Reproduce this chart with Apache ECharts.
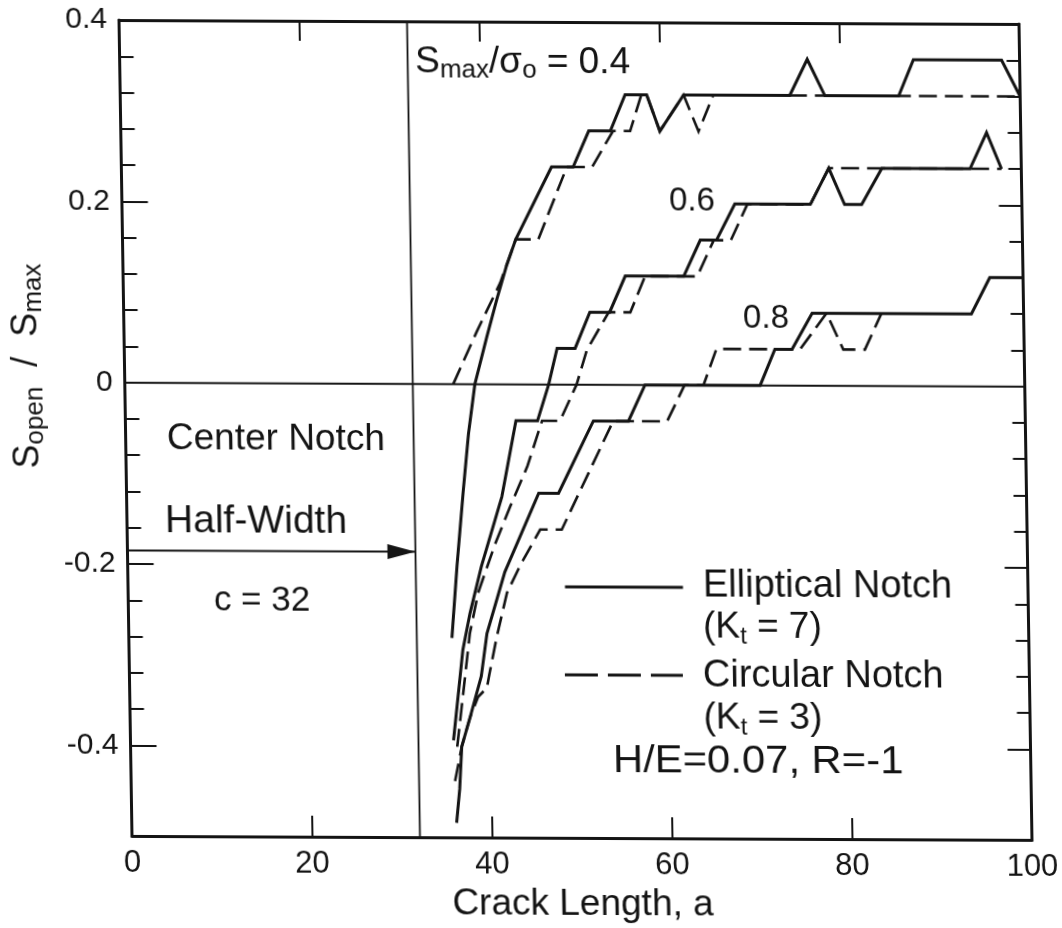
<!DOCTYPE html>
<html>
<head>
<meta charset="utf-8">
<title>Crack opening stress vs crack length</title>
<script src="https://cdn.jsdelivr.net/npm/echarts@6/dist/echarts.min.js"></script>
<style>
  html, body { margin: 0; padding: 0; background: #ffffff; }
  /* the plotted sheet is slightly sheared */
  #chart {
    width: 1062px; height: 928px;
    transform-origin: 575.5px 430px;
    transform: matrix(1, 0.0044, 0.0159, 1, 0, 0);
  }
</style>
</head>
<body>
<div id="chart"></div>
<script>
// Crack-opening stress S_open/S_max versus crack length a, center-notched plate
const halfWidth = 32;          // notch half-width c
const arrowLevel = -0.185;     // height of the half-width arrow

const xTickLabels = [0, 20, 40, 60, 80, 100];
const xTicks = [20, 40, 60, 80];
const yTickLabels = [-0.4, -0.2, 0, 0.2, 0.4];
const yMajorTicks = [-0.4, -0.2, 0.2];
const yMinorTicks = [-0.36, -0.32, -0.28, -0.24, -0.16, -0.12, -0.08, -0.04,
                     0.04, 0.08, 0.12, 0.16, 0.24, 0.28, 0.32, 0.36];

// Elliptical notch (Kt = 7), one curve per Smax/σo level
const elliptical04 = [[35.9,-0.28],[36.6,-0.2],[37.4,-0.12],[38.1,-0.055],[38.9,0],[40.3,0.052],
  [41.5,0.094],[42.6,0.13],[43.7,0.16],[47.8,0.24],[50.2,0.24],[52.0,0.28],[54.4,0.28],[56.1,0.32],
  [58.5,0.32],[59.9,0.28],[62.6,0.32],[74.4,0.32],[76.4,0.36],[78.3,0.32],[86.5,0.32],[88.2,0.36],
  [98.0,0.36],[100,0.32]];
const elliptical06 = [[35.9,-0.393],[37.1,-0.293],[37.95,-0.253],[39.3,-0.201],[41.7,-0.124],
  [43.4,-0.04],[45.8,-0.04],[47.1,0],[48.1,0.04],[50.1,0.04],[51.8,0.08],[54.0,0.08],[55.8,0.12],
  [62.3,0.12],[64.2,0.16],[66.0,0.16],[68.1,0.2],[76.5,0.2],[78.6,0.24],[80.3,0.2],[82.2,0.2],
  [84.5,0.24],[94.3,0.24],[96.2,0.28],[97.8,0.24]];
const elliptical08 = [[36.1,-0.484],[36.5,-0.447],[36.8,-0.40],[37.8,-0.367],[39.1,-0.322],
  [39.8,-0.275],[41.9,-0.207],[45.8,-0.12],[48.0,-0.12],[52.0,-0.04],[55.9,-0.04],[57.8,0],
  [70.6,0],[72.3,0.04],[74.2,0.04],[76.5,0.08],[94.2,0.08],[96.3,0.12],[100,0.12]];

// Circular notch (Kt = 3)
const circular04 = [[36.5,0],[39.2,0.058],[41.9,0.112],[43.7,0.16],[46.2,0.16],[49.5,0.24],
  [52.3,0.24],[54.7,0.28],[56.6,0.28],[57.9,0.32],[58.5,0.32],[59.9,0.28],[62.6,0.32],[64.2,0.28],
  [65.9,0.32],[100,0.32]];
const circular06 = [[36.3,-0.40],[37.2,-0.33],[37.9,-0.275],[38.9,-0.23],[40.8,-0.178],
  [42.6,-0.135],[44.6,-0.09],[46.3,-0.04],[48.3,-0.04],[50.2,0],[51.4,0.038],[52.7,0.06],
  [53.9,0.08],[56.3,0.08],[58.0,0.12],[63.8,0.12],[65.7,0.16],[67.6,0.16],[69.5,0.2],[76.5,0.2],
  [78.6,0.24],[97.8,0.24]];
const circular08 = [[36.0,-0.438],[36.8,-0.40],[37.8,-0.367],[38.7,-0.345],[39.7,-0.335],
  [40.0,-0.32],[40.9,-0.278],[42.1,-0.23],[43.6,-0.2],[45.9,-0.16],[48.3,-0.16],[54.2,-0.04],
  [60.2,-0.04],[62.2,0],[64.3,0],[65.8,0.04],[75.1,0.04],[78.1,0.08],[79.9,0.04],[82.3,0.04],
  [84.2,0.08]];

const INK = '#141414';
const FONT = '"Liberation Sans", Arial, sans-serif';

function curve(name, data, dashed) {
  return {
    type: 'line', name: name, data: data, symbol: 'none', silent: true,
    z: dashed ? 3 : 4,
    lineStyle: { color: INK, width: dashed ? 2.6 : 3, type: dashed ? [18, 8] : 'solid', join: 'miter' }
  };
}

function yAxisDef(position, ticks, tickLen, withLine, extra) {
  return Object.assign({
    type: 'value', position: position, min: -0.5, max: 0.4, gridIndex: 0,
    axisLine: { show: withLine, onZero: false, lineStyle: { color: INK, width: 3 } },
    axisTick: { show: true, inside: true, length: tickLen, customValues: ticks,
                lineStyle: { color: INK, width: 2 } },
    axisLabel: { show: false },
    splitLine: { show: false }
  }, extra || {});
}

const chart = echarts.init(document.getElementById('chart'), null,
  { renderer: 'canvas', width: 1062, height: 928 });

chart.setOption({
  animation: false,
  backgroundColor: '#ffffff',
  textStyle: { fontFamily: FONT, color: INK },
  grid: { left: 125.5, top: 22, width: 900, height: 816, containLabel: false },
  xAxis: [
    {
      type: 'value', position: 'bottom', min: 0, max: 100, interval: 20, gridIndex: 0,
      axisLine: { show: true, onZero: false, lineStyle: { color: INK, width: 3 } },
      axisTick: { show: true, inside: true, length: 21, customValues: xTicks,
                  lineStyle: { color: INK, width: 2 } },
      axisLabel: { show: true, customValues: xTickLabels, fontSize: 31, fontFamily: FONT,
                   color: INK, margin: 12 },
      splitLine: { show: false },
      name: 'Crack Length, a', nameLocation: 'middle', nameGap: 37,
      nameTextStyle: { fontSize: 37, fontFamily: FONT, color: INK }
    },
    {
      type: 'value', position: 'top', min: 0, max: 100, interval: 20, gridIndex: 0,
      axisLine: { show: true, onZero: false, lineStyle: { color: INK, width: 3 } },
      axisTick: { show: true, inside: true, length: 20, customValues: xTicks,
                  lineStyle: { color: INK, width: 2 } },
      axisLabel: { show: false },
      splitLine: { show: false }
    }
  ],
  yAxis: [
    yAxisDef('left', yMajorTicks, 26, true, {
      axisLabel: { show: true, customValues: yTickLabels, fontSize: 30, fontFamily: FONT,
                   color: INK, margin: 12 },
      name: '{m|S}{s|open}{m|  /  S}{s|max}',
      nameLocation: 'middle', nameRotate: 90, nameGap: 77,
      nameTextStyle: {
        color: INK, fontFamily: FONT, padding: [0, 0, 0, 123],
        rich: {
          m: { fontSize: 36, lineHeight: 40, fontFamily: FONT, color: INK },
          s: { fontSize: 26, lineHeight: 20, verticalAlign: 'bottom', fontFamily: FONT, color: INK }
        }
      }
    }),
    yAxisDef('left', yMinorTicks, 14, false),
    yAxisDef('right', yMajorTicks, 23, true),
    yAxisDef('right', yMinorTicks, 13, false)
  ],
  series: [
    {
      type: 'line', name: 'zero', data: [[0, 0], [100, 0]], symbol: 'none', silent: true, z: 2,
      lineStyle: { color: INK, width: 2 }
    },
    {
      type: 'line', name: 'notch half-width', data: [[halfWidth, -0.5], [halfWidth, 0.4]],
      symbol: 'none', silent: true, z: 2, lineStyle: { color: INK, width: 1.8 }
    },
    {
      type: 'line', name: 'half-width arrow', silent: true, z: 2,
      symbol: 'path://M0,0L28,7.5L0,15Z', showSymbol: true,
      itemStyle: { color: INK }, lineStyle: { color: INK, width: 2 },
      data: [
        { value: [0, arrowLevel], symbol: 'none' },
        { value: [halfWidth, arrowLevel], symbolSize: [28, 15], symbolOffset: [-14, 0] }
      ]
    },
    curve('Elliptical Notch, Smax/σo = 0.4', elliptical04, false),
    curve('Elliptical Notch, Smax/σo = 0.6', elliptical06, false),
    curve('Elliptical Notch, Smax/σo = 0.8', elliptical08, false),
    curve('Circular Notch, Smax/σo = 0.4', circular04, true),
    curve('Circular Notch, Smax/σo = 0.6', circular06, true),
    curve('Circular Notch, Smax/σo = 0.8', circular08, true)
  ],
  graphic: [
    { type: 'text', x: 421, y: 63, silent: true, style: {
        text: '{m|S}{s|max}{m|/σ}{s|o}{m| = 0.4}', align: 'left', verticalAlign: 'middle',
        rich: {
          m: { fontSize: 37, lineHeight: 42, fontFamily: FONT, fill: INK },
          s: { fontSize: 26, lineHeight: 22, verticalAlign: 'bottom', fontFamily: FONT, fill: INK }
        } } },
    { type: 'text', x: 695.6, y: 201, silent: true, style: {
        text: '0.6', fontSize: 33, fontFamily: FONT, fill: INK, align: 'center', verticalAlign: 'middle' } },
    { type: 'text', x: 767.8, y: 318, silent: true, style: {
        text: '0.8', fontSize: 33, fontFamily: FONT, fill: INK, align: 'center', verticalAlign: 'middle' } },
    { type: 'text', x: 275.8, y: 441, silent: true, style: {
        text: 'Center Notch', fontSize: 37, fontFamily: FONT, fill: INK, align: 'center', verticalAlign: 'middle' } },
    { type: 'text', x: 254.6, y: 523, silent: true, style: {
        text: 'Half-Width', fontSize: 39, fontFamily: FONT, fill: INK, align: 'center', verticalAlign: 'middle' } },
    { type: 'text', x: 259.3, y: 602.4, silent: true, style: {
        text: 'c = 32', fontSize: 35, fontFamily: FONT, fill: INK, align: 'center', verticalAlign: 'middle' } },

    // key
    { type: 'line', silent: true, shape: { x1: 562.5, y1: 587, x2: 680.5, y2: 587 },
      style: { stroke: INK, lineWidth: 3 } },
    { type: 'line', silent: true, shape: { x1: 561, y1: 675, x2: 679, y2: 675 },
      style: { stroke: INK, lineWidth: 3, lineDash: [33, 10] } },
    { type: 'text', x: 700.5, y: 586, silent: true, style: {
        text: 'Elliptical Notch', fontSize: 38, fontFamily: FONT, fill: INK, align: 'left', verticalAlign: 'middle' } },
    { type: 'text', x: 700, y: 627, silent: true, style: {
        text: '{m|(K}{s|t}{m| = 7)}', align: 'left', verticalAlign: 'middle',
        rich: {
          m: { fontSize: 37, lineHeight: 42, fontFamily: FONT, fill: INK },
          s: { fontSize: 24, lineHeight: 20, verticalAlign: 'bottom', fontFamily: FONT, fill: INK }
        } } },
    { type: 'text', x: 699, y: 676, silent: true, style: {
        text: 'Circular Notch', fontSize: 38, fontFamily: FONT, fill: INK, align: 'left', verticalAlign: 'middle' } },
    { type: 'text', x: 699, y: 718, silent: true, style: {
        text: '{m|(K}{s|t}{m| = 3)}', align: 'left', verticalAlign: 'middle',
        rich: {
          m: { fontSize: 37, lineHeight: 42, fontFamily: FONT, fill: INK },
          s: { fontSize: 24, lineHeight: 20, verticalAlign: 'bottom', fontFamily: FONT, fill: INK }
        } } },
    { type: 'text', x: 607.7, y: 762, scaleX: 1.1, silent: true, style: {
        text: 'H/E=0.07, R=-1', fontSize: 38, fontFamily: FONT, fill: INK, align: 'left', verticalAlign: 'middle' } }
  ]
});
</script>
</body>
</html>
